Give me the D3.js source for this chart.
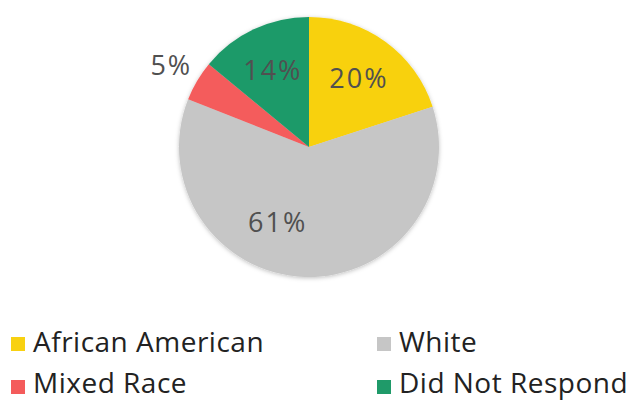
<!DOCTYPE html>
<meta charset="utf-8">
<style>
  body { margin: 0; background: #fff; }
  text { font-family: "Open Sans", "Lato", sans-serif; }
</style>
<body>
<script src="https://d3js.org/d3.v7.min.js"></script>
<script>
  // data
  var categories = ["African American", "White", "Mixed Race", "Did Not Respond"];
  var values = [20, 61, 5, 14];
  var colors = ["#F8D111", "#C6C6C6", "#F45B5B", "#1F9A69"];

  var width = 632, height = 402;
  var cx = 309, cy = 147, radius = 130;

  var svg = d3.select("body").append("svg")
      .attr("width", width)
      .attr("height", height);

  // soft shadow under the pie
  var defs = svg.append("defs");
  var f = defs.append("filter").attr("id", "shadow")
      .attr("x", "-20%").attr("y", "-20%").attr("width", "140%").attr("height", "140%");
  f.append("feDropShadow").attr("dx", 0).attr("dy", 1).attr("stdDeviation", 2)
      .attr("flood-color", "#000").attr("flood-opacity", 0.25);

  var pie = d3.pie().sort(null).value(function(d) { return d; });
  var arc = d3.arc().innerRadius(0).outerRadius(radius);
  var labelArc = d3.arc().innerRadius(85).outerRadius(85);
  var outerLabelArc = d3.arc().innerRadius(160).outerRadius(160);

  var g = svg.append("g").attr("transform", "translate(" + cx + "," + cy + ")");

  var arcs = pie(values);

  g.append("g").attr("filter", "url(#shadow)")
    .selectAll("path")
    .data(arcs)
    .enter().append("path")
      .attr("d", arc)
      .attr("fill", function(d, i) { return colors[i]; });

  // small slices get their label outside, big grey label sits a bit left
  g.selectAll(".lbl")
    .data(arcs)
    .enter().append("text")
      .attr("class", "lbl")
      .attr("transform", function(d, i) {
        var p;
        if (d.data < 10) {
          p = outerLabelArc.centroid(d);
        } else if (i == 1) {
          var a = (d.startAngle + d.endAngle) / 2 + 0.36;
          p = [82 * Math.sin(a), -82 * Math.cos(a)];
        } else {
          p = labelArc.centroid(d);
        }
        return "translate(" + p + ")";
      })
      .attr("dy", "0.35em")
      .attr("text-anchor", "middle")
      .style("font-size", "27px")
      .style("letter-spacing", "2px")
      .style("fill", "#505050")
      .text(function(d) { return d.data + "%"; });

  // legend, two columns
  var legend = svg.append("g");
  var item = legend.selectAll(".item")
    .data(categories)
    .enter().append("g")
      .attr("class", "item")
      .attr("transform", function(d, i) {
        return "translate(" + (i % 2 == 0 ? 11 : 377) + "," + (i < 2 ? 344 : 387) + ")";
      });

  item.append("rect")
      .attr("x", 0).attr("y", -7)
      .attr("width", 14).attr("height", 14)
      .attr("fill", function(d, i) { return colors[i]; });

  // second row sits close to the bottom edge, keep descenders inside
  item.append("text")
      .attr("x", 22)
      .attr("y", function(d, i) { return i < 2 ? 8 : 6; })
      .style("font-size", "28px")
      .style("letter-spacing", "0.5px")
      .style("fill", "#222")
      .text(function(d) { return d; });
</script>
</body>
